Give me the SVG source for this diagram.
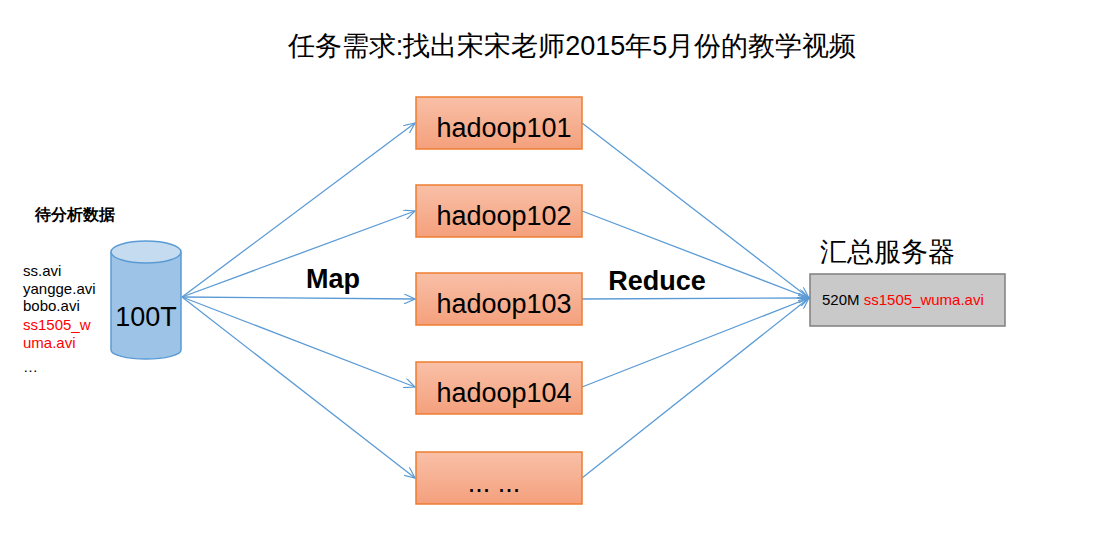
<svg xmlns="http://www.w3.org/2000/svg" width="1119" height="549" viewBox="0 0 1119 549">
<defs>
<linearGradient id="g" x1="0" y1="0" x2="0" y2="1"><stop offset="0" stop-color="#f9c0a8"/><stop offset="1" stop-color="#f4a07c"/></linearGradient>
<marker id="a" markerWidth="12" markerHeight="10" refX="11" refY="5" orient="auto" markerUnits="userSpaceOnUse"><path d="M0,0 L11,5 L0,10" fill="none" stroke="#5b9bd5" stroke-width="1.2"/></marker>
<style>
.b{fill:url(#g);stroke:#ed7d31;stroke-width:1.5}
.t{font-family:"Liberation Sans",Arial,sans-serif;fill:#000}
.c{stroke:#5b9bd5;stroke-width:1.3;fill:none;marker-end:url(#a)}
</style>
</defs>
<rect width="1119" height="549" fill="#fff"/>
<text class="t" x="572" y="55" font-size="27" text-anchor="middle" font-family="'Liberation Sans','Noto Sans CJK SC',sans-serif">任务需求:找出宋宋老师2015年5月份的教学视频</text>
<g id="data">
<text class="t" x="35" y="220" font-size="16" font-weight="bold" font-family="'Liberation Sans','Noto Sans CJK SC',sans-serif">待分析数据</text>
<g class="t" font-size="15"><text x="23" y="276">ss.avi</text><text x="23" y="294">yangge.avi</text><text x="23" y="311">bobo.avi</text><text x="23" y="330" style="fill:#f00">ss1505_w</text><text x="23" y="348" style="fill:#f00">uma.avi</text><text x="23" y="372">…</text></g>
</g>
<g id="disk">
<path d="M111,252 L111,350 A35,9 0 0 0 181,350 L181,252" fill="#9dc3e6" stroke="#5b9bd5" stroke-width="1.5"/>
<ellipse cx="146" cy="252" rx="35" ry="11" fill="#c5dbf0" stroke="#5b9bd5" stroke-width="1.5"/>
<text class="t" x="146" y="326" font-size="27" text-anchor="middle">100T</text>
</g>
<g id="connectors">
<line class="c" x1="182" y1="297" x2="415" y2="123"/>
<line class="c" x1="182" y1="297" x2="415" y2="211"/>
<line class="c" x1="182" y1="297" x2="415" y2="299"/>
<line class="c" x1="182" y1="297" x2="415" y2="387"/>
<line class="c" x1="182" y1="297" x2="415" y2="478"/>
<line class="c" x1="582" y1="123" x2="809" y2="298"/>
<line class="c" x1="582" y1="211" x2="809" y2="298"/>
<line class="c" x1="582" y1="299" x2="809" y2="298"/>
<line class="c" x1="582" y1="387" x2="809" y2="298"/>
<line class="c" x1="582" y1="478" x2="809" y2="298"/>
</g>
<text class="t" x="333" y="288" font-size="27" font-weight="bold" text-anchor="middle">Map</text>
<text class="t" x="657" y="290" font-size="27" font-weight="bold" text-anchor="middle">Reduce</text>
<g id="h1"><rect class="b" x="416" y="97" width="166" height="52"/><text class="t" x="504" y="137" font-size="27" text-anchor="middle">hadoop101</text></g>
<g id="h2"><rect class="b" x="416" y="185" width="166" height="52"/><text class="t" x="504" y="225" font-size="27" text-anchor="middle">hadoop102</text></g>
<g id="h3"><rect class="b" x="416" y="273" width="166" height="52"/><text class="t" x="504" y="313" font-size="27" text-anchor="middle">hadoop103</text></g>
<g id="h4"><rect class="b" x="416" y="362" width="166" height="52"/><text class="t" x="504" y="402" font-size="27" text-anchor="middle">hadoop104</text></g>
<g id="h5"><rect class="b" x="416" y="452" width="166" height="52"/><text class="t" x="494" y="492" font-size="27" text-anchor="middle">... ...</text></g>
<g id="server">
<text class="t" x="820" y="261" font-size="27" font-family="'Liberation Sans','Noto Sans CJK SC',sans-serif">汇总服务器</text>
<rect x="810" y="274" width="195" height="52" fill="#c9c9c9" stroke="#7f7f7f" stroke-width="1.5"/>
<text class="t" x="822" y="305" font-size="15">520M <tspan style="fill:#f00">ss1505_wuma.avi</tspan></text>
</g>
</svg>
